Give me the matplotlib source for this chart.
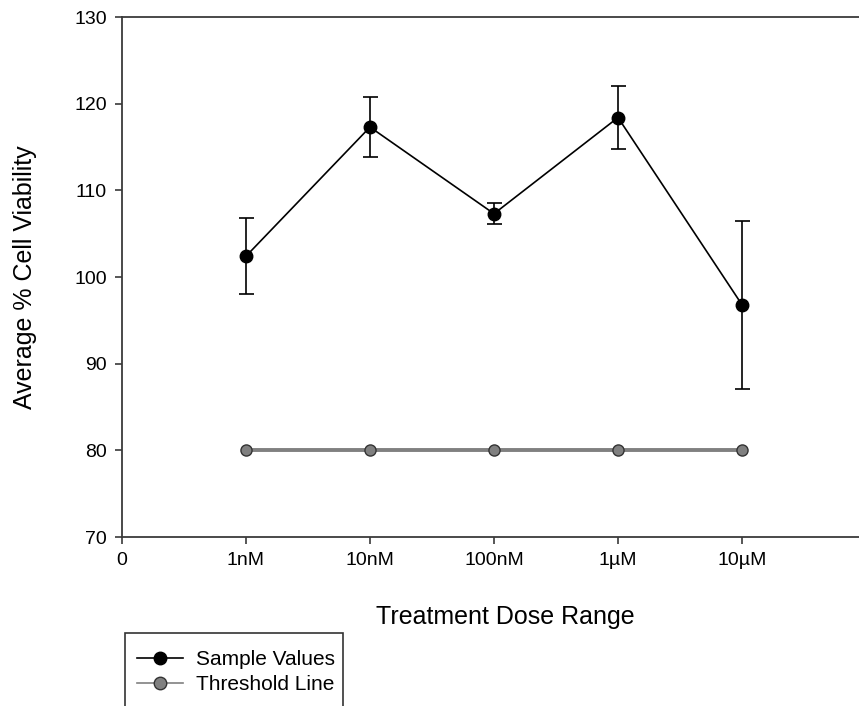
import matplotlib
matplotlib.use("Agg")
import matplotlib.pyplot as plt
from matplotlib.patches import Rectangle
from matplotlib.lines import Line2D

plt.rcParams["font.family"] = ["Liberation Sans", "DejaVu Sans"]

doses = ["1nM", "10nM", "100nM", "1\u00b5M", "10\u00b5M"]
positions = [1, 2, 3, 4, 5]
viability = [102.4, 117.3, 107.3, 118.4, 96.8]
viability_err = [4.4, 3.5, 1.2, 3.6, 9.7]
threshold = [80, 80, 80, 80, 80]

W, H = 859, 706
fig = plt.figure(figsize=(W / 100, H / 100), dpi=100)
# axes extends a bit past the right edge, like the original export
ax_w = 6 * 124
ax = fig.add_axes([122 / W, (H - 537) / H, ax_w / W, 520 / H])

ax.plot(positions, threshold, color="#808080", lw=2.8, marker="o", ms=8,
        mfc="#808080", mec="#333333", mew=1.0, zorder=2)
ax.errorbar(positions, viability, yerr=viability_err, color="black", lw=1.2,
            marker="o", ms=9, mfc="black", mec="black", capsize=5.4,
            elinewidth=1.2, capthick=1.2, zorder=3)

ax.set_xlim(0, 6)
ax.set_ylim(70, 130)
ax.set_xticks([0] + positions)
ax.set_xticklabels(["0"] + doses)
ax.set_yticks(range(70, 131, 10))

for side in ("left", "bottom", "top"):
    ax.spines[side].set_color("#3a3a3a")
    ax.spines[side].set_linewidth(1.3)
ax.spines["right"].set_visible(False)
ax.tick_params(direction="out", length=5, width=1.2, color="#3a3a3a",
               labelsize=14, pad=6)

ax.set_xlabel("Treatment Dose Range", fontsize=18, va="center")
ax.set_ylabel("Average % Cell Viability", fontsize=18, va="center")
ax.xaxis.set_label_coords((505 - 122) / ax_w, (537 - 617) / 520)
ax.yaxis.set_label_coords((25 - 122) / ax_w, 0.5)

# legend box sits below the plot and runs off the bottom of the figure
fig.patches.append(Rectangle((125 / W, -0.05), (343 - 125) / W, (H - 633) / H + 0.05,
                             transform=fig.transFigure, fill=False,
                             edgecolor="#333333", lw=1.2))
handles = [
    Line2D([], [], color="black", lw=1.2, marker="o", ms=9, mfc="black", mec="black"),
    Line2D([], [], color="#808080", lw=1.2, marker="o", ms=9, mfc="#808080", mec="#333333"),
]
fig.legend(handles, ["Sample Values", "Threshold Line"], loc="upper left",
           bbox_to_anchor=(137 / W, (H - 650) / H), frameon=False, fontsize=15,
           handlelength=2.2, handletextpad=0.65, labelspacing=0.3, borderaxespad=0,
           borderpad=0)

fig.savefig("out.png", dpi=100)
